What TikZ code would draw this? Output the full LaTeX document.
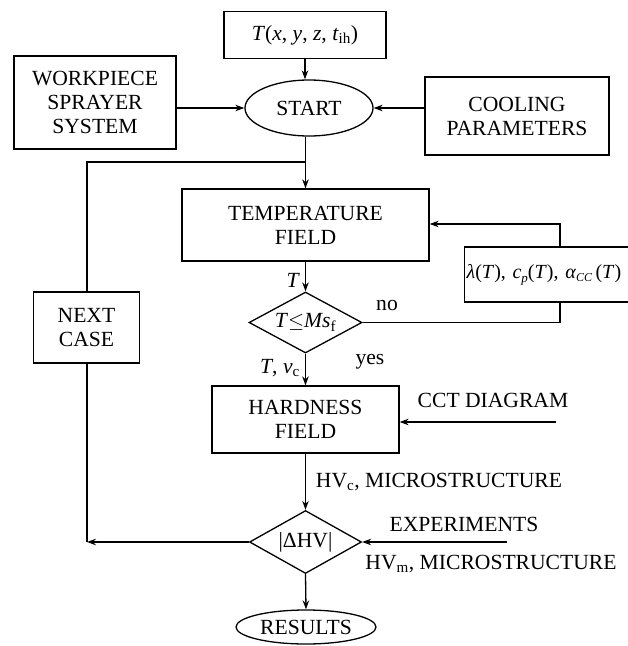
\documentclass[tikz,border=0pt]{standalone}
\usepackage{fontspec}
\setmainfont{Liberation Serif}
\usetikzlibrary{shapes.geometric,arrows.meta}
\begin{document}
\begin{tikzpicture}[x=1pt,y=-1pt,
  every node/.style={font=\fontsize{21.6}{24}\selectfont, inner sep=0pt, align=center},
  box/.style={draw, line width=1.3pt, rectangle},
  oval/.style={draw, line width=1.3pt, ellipse},
  dia/.style={draw, line width=1.3pt, diamond, shape aspect=1.85},
  flow/.style={line width=1.3pt, -{Stealth[length=9pt,width=6.5pt,inset=3pt]}},
  plain/.style={line width=1.3pt}]
\useasboundingbox (0,0) rectangle (628,646);

\node[box, minimum width=162pt, minimum height=47pt] (tbox) at (305,35)
  {\textit{T}(\textit{x}, \textit{y}, \textit{z}, \textit{t}\textsubscript{ih})};
\node[oval, minimum width=128pt, minimum height=56pt] (start) at (309,108) {START};
\node[box, minimum width=162pt, minimum height=93pt] (work) at (95,102.5)
  {WORKPIECE\\SPRAYER\\SYSTEM};
\node[box, minimum width=184pt, minimum height=78pt] (cool) at (517,116)
  {COOLING\\PARAMETERS};
\node[box, minimum width=247pt, minimum height=72pt] (temp) at (305.5,225)
  {TEMPERATURE\\FIELD};
\node[dia, minimum width=113pt, minimum height=61pt] (d1) at (305.5,322.5)
  {\textit{T}$\leq$\textit{Ms}\textsubscript{f}};
\node[box, minimum width=106pt, minimum height=71pt] (next) at (86.5,327.5)
  {NEXT\\CASE};
\node[box, anchor=west, text width=170pt, align=left, inner xsep=2pt,
  minimum height=55pt, font=\fontsize{20}{24}\selectfont] (lam) at (464,274.5)
  {\textit{λ}(\textit{T}), \textit{c}\raisebox{-0.45ex}{\fontsize{13}{13}\selectfont\textit{p}}(\textit{T}), \textit{α}\raisebox{-0.4ex}{\fontsize{12}{12}\selectfont\textit{CC}}\,(\textit{T})};
\node[box, minimum width=187pt, minimum height=67pt] (hard) at (305.5,419.5)
  {HARDNESS\\FIELD};
\node[dia, minimum width=112pt, minimum height=63pt] (d2) at (305.5,542)
  {|ΔHV|};
\node[oval, minimum width=140pt, minimum height=34pt] (res) at (306,627) {RESULTS};

% labels
\node[anchor=east] (lT) at (300,280) {\textit{T}};
\node (lno) at (387,306) {no};
\node[anchor=east] (lTv) at (300,368) {\textit{T}, \textit{v}\textsubscript{c}};
\node (lyes) at (370,362) {yes};
\node (lcct) at (493,400) {CCT DIAGRAM};
\node (lhvc) at (439,482) {HV\textsubscript{c}, MICROSTRUCTURE};
\node (lexp) at (464,524) {EXPERIMENTS};
\node (lhvm) at (491,564) {HV\textsubscript{m}, MICROSTRUCTURE};

% coordinates
\coordinate (J) at (305.5,162);
\coordinate (TL) at (87,162);
\coordinate (BL) at (87,542);
\coordinate (NR) at (560,322.5);
\coordinate (LT) at (560,224);
\coordinate (CCT) at (556,422);
\coordinate (EXP) at (507,542);

% connectors
\draw[flow] (tbox.south) -- (tbox.south |- start.north);
\draw[flow] (work.east |- start.west) -- (start.west);
\draw[flow] (cool.west |- start.east) -- (start.east);
\draw[plain] (start.south -| J) -- (J);
\draw[flow] (J) -- (temp.north);
\draw[plain] (J) -- (TL) -- (next.north -| TL);
\draw[flow] (temp.south) -- (d1.north);
\draw[plain] (d1.east) -- (NR) -- (NR |- lam.south);
\draw[flow] (lam.north -| LT) -- (LT) -- (temp.east |- LT);
\draw[flow] (d1.south) -- (hard.north);
\draw[flow] (CCT) -- (hard.east |- CCT);
\draw[flow] (hard.south) -- (d2.north);
\draw[flow] (EXP) -- (d2.east);
\draw[flow] (d2.west) -- (BL);
\draw[plain] (BL) -- (next.south -| BL);
\draw[flow] (d2.south) -- (res.north);
\end{tikzpicture}
\end{document}
